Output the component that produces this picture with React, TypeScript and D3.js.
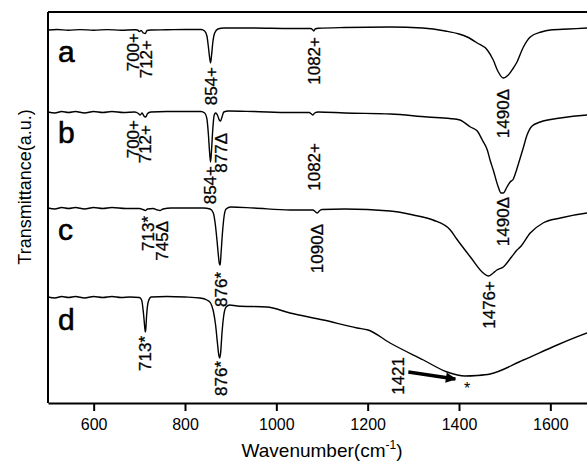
import * as d3 from "d3";
import React, { useEffect, useRef } from "react";

// spectra: [wavenumber (cm-1), transmittance (a.u., offset stacked)]
const specA: [number, number][] = [
  [500, 373], [520, 373.5], [545, 372.8], [570, 373.4], [600, 372.8], [630, 373.4],
  [660, 372.8], [690, 373.2], [696, 373], [700, 371.5], [704, 372.5], [709, 370],
  [713, 369.5], [717, 372.5], [725, 373], [760, 373.2], [800, 373.5], [835, 373.5],
  [843, 372], [848, 367], [851, 357], [854, 345], [856, 340], [858, 347], [861, 361],
  [865, 370], [872, 374], [885, 375], [950, 375], [1030, 374.5], [1075, 374.5],
  [1079, 373.5], [1082, 372], [1085, 374], [1092, 374.7], [1150, 375.5], [1250, 376],
  [1320, 375], [1370, 372], [1400, 369], [1418, 366], [1440, 360], [1462, 353],
  [1475, 343], [1485, 332], [1497, 325], [1508, 328], [1519, 335], [1527, 341],
  [1540, 355], [1556, 366], [1580, 371], [1600, 373], [1640, 374], [1681, 375], [1700, 375.5],
];

const specB: [number, number][] = [
  [500, 291], [515, 290], [530, 291.5], [545, 290.5], [560, 291.5], [580, 290], [600, 291.5],
  [620, 290.5], [640, 291.5], [665, 290.5], [690, 291], [698, 289.5], [702, 288], [706, 290],
  [710, 287], [714, 286], [718, 289.5], [725, 291], [760, 291.5], [800, 291.5], [835, 291.5],
  [843, 290], [848, 284], [851, 270], [854, 250], [856, 241], [858, 252], [861, 275],
  [864, 288], [867, 290], [871, 288], [875, 283], [878, 282], [881, 286], [885, 291],
  [895, 292], [950, 291.5], [1030, 290.5], [1072, 290.5], [1077, 289], [1080, 288],
  [1084, 290], [1092, 291], [1150, 290], [1250, 289], [1331, 286], [1380, 284.5],
  [1402, 283], [1425, 276], [1440, 272], [1451, 263], [1462, 253], [1468, 243], [1475, 233],
  [1486, 216], [1492, 210], [1497, 210], [1505, 216], [1512, 221], [1519, 224], [1526, 233],
  [1534, 245], [1540, 254], [1549, 268], [1560, 277], [1578, 281], [1622, 285], [1681, 288],
  [1700, 288.5],
];

const specC: [number, number][] = [
  [500, 195], [515, 194], [530, 195.5], [545, 194.5], [560, 195.5], [580, 194], [600, 195.5],
  [620, 194.5], [640, 195.5], [670, 194.5], [700, 194.5], [708, 193.5], [713, 192.5],
  [718, 194], [730, 194.5], [740, 193], [745, 192.5], [752, 194], [770, 195], [800, 195],
  [840, 195], [855, 194], [862, 190], [866, 180], [870, 163], [873, 148], [875, 140],
  [877, 138], [879, 150], [882, 170], [886, 188], [890, 194], [900, 196], [950, 195],
  [1030, 193], [1080, 193], [1086, 191], [1090, 190], [1094, 192], [1100, 193.5],
  [1150, 194], [1249, 192], [1300, 188], [1343, 183], [1381, 173], [1395, 164],
  [1425, 146], [1453, 130], [1464, 127], [1475, 130], [1483, 133], [1497, 136],
  [1515, 146], [1527, 153], [1534, 156], [1556, 170], [1584, 180], [1622, 185],
  [1681, 190], [1700, 191],
];

const specD: [number, number][] = [
  [500, 106], [515, 105], [530, 106.5], [545, 105.5], [560, 106.5], [580, 105], [600, 106.5],
  [620, 105.5], [640, 106.5], [660, 105.5], [680, 106], [700, 105.5], [705, 103], [709, 90],
  [712, 75], [713, 71], [714, 73], [716, 88], [720, 102], [726, 106], [760, 106.5],
  [800, 106], [833, 105], [848, 103], [856, 100], [862, 92], [867, 78], [871, 60],
  [874, 48], [876, 45], [878, 50], [881, 70], [885, 88], [890, 96], [898, 98], [914, 97],
  [979, 96], [1030, 90], [1103, 83], [1177, 75], [1201, 73], [1249, 60], [1322, 43],
  [1374, 31], [1413, 27], [1440, 27.5], [1468, 29], [1541, 43], [1615, 58], [1681, 70],
  [1700, 73],
];

const spectra = [specA, specB, specC, specD];
const sampleNames = ["a", "b", "c", "d"];
const sampleLabelPos: [number, number][] = [[522, 341], [522, 260], [522, 163], [522, 73]];

// peak labels: [wavenumber, label top (a.u.), text]
const peakLabels: [number, number, string][] = [
  [686, 370, "700+"], [715, 363, "712+"], [857, 336, "854+"], [1083, 366, "1082+"], [1497, 314, "1490\u0394"],
  [686, 283, "700+"], [712, 278, "712+"], [855, 237, "854+"], [879, 270, "877\u0394"], [1083, 260, "1082+"], [1497, 206, "1490\u0394"],
  [719, 187, "713*"], [750, 182, "745\u0394"], [878, 131, "876*"], [1089, 179, "1090\u0394"], [1466, 122, "1476+"],
  [712, 67, "713*"], [878, 42, "876*"], [1267, 46, "1421"],
];
const starMark: [number, number] = [1418, 20];
const arrowFrom: [number, number] = [1289, 31];
const arrowTo: [number, number] = [1392, 24];

const majorTicks = [600, 800, 1000, 1200, 1400, 1600];
const minorTicks = [500, 700, 900, 1100, 1300, 1500, 1700];

const FONT = "'Liberation Sans', Arial, Helvetica, sans-serif";

const App = () => {
  const svgRef = useRef<SVGSVGElement | null>(null);

  useEffect(() => {
    const svg = d3.select(svgRef.current);
    svg.selectAll("*").remove();

    const x = d3.scaleLinear().domain([500, 1700]).range([48, 596]);
    const y = d3.scaleLinear().domain([0, 391]).range([403, 12]);

    svg.append("defs")
      .append("marker")
      .attr("id", "arrowhead")
      .attr("viewBox", "0 0 10 10")
      .attr("refX", 9)
      .attr("refY", 5)
      .attr("markerWidth", 4)
      .attr("markerHeight", 3)
      .attr("orient", "auto")
      .attr("markerUnits", "strokeWidth")
      .append("path")
      .attr("d", "M0,0 L10,5 L0,10 Z")
      .attr("fill", "#000");

    const line = d3
      .line<[number, number]>()
      .x((d) => x(d[0]))
      .y((d) => y(d[1]))
      .curve(d3.curveMonotoneX);

    svg.selectAll(".spec")
      .data(spectra)
      .enter()
      .append("path")
      .attr("class", "spec")
      .attr("d", (d) => line(d))
      .attr("fill", "none")
      .attr("stroke", "#000")
      .attr("stroke-width", 1.4);

    // frame: top and left lines
    svg.append("line")
      .attr("x1", x(500)).attr("x2", x(1700))
      .attr("y1", y(391)).attr("y2", y(391))
      .attr("stroke", "#000").attr("stroke-width", 2);
    svg.append("line")
      .attr("x1", x(500)).attr("x2", x(500))
      .attr("y1", y(391)).attr("y2", y(0))
      .attr("stroke", "#000").attr("stroke-width", 2);

    // bottom axis
    const gx = svg.append("g").attr("transform", `translate(0,${y(0)})`);
    gx.call(d3.axisBottom(x).tickValues(minorTicks).tickSize(5).tickSizeOuter(0).tickFormat(() => ""));
    gx.call(d3.axisBottom(x).tickValues(majorTicks).tickSize(8).tickSizeOuter(0).tickFormat(d3.format("d")));
    gx.selectAll("path, line").attr("stroke", "#000").attr("stroke-width", 2);
    gx.selectAll(".tick text")
      .attr("font-family", FONT)
      .attr("font-size", 16)
      .attr("fill", "#000")
      .attr("dy", "1em");

    const xTitle = svg.append("text")
      .attr("x", 322)
      .attr("y", 457)
      .attr("text-anchor", "middle")
      .attr("font-family", FONT)
      .attr("font-size", 19)
      .attr("fill", "#000");
    xTitle.append("tspan").text("Wavenumber(cm");
    xTitle.append("tspan").attr("font-size", 12).attr("dy", -8).text("-1");
    xTitle.append("tspan").attr("dy", 8).text(")");

    svg.append("text")
      .attr("transform", `translate(25,187) rotate(-90)`)
      .attr("text-anchor", "middle")
      .attr("dy", "0.35em")
      .attr("font-family", FONT)
      .attr("font-size", 18)
      .attr("fill", "#000")
      .text("Transmittance(a.u.)");

    svg.selectAll(".sample")
      .data(sampleNames)
      .enter()
      .append("text")
      .attr("class", "sample")
      .attr("x", (_, i) => x(sampleLabelPos[i][0]))
      .attr("y", (_, i) => y(sampleLabelPos[i][1]))
      .attr("font-family", FONT)
      .attr("font-size", 30)
      .attr("fill", "#000")
      .attr("stroke", "#000")
      .attr("stroke-width", 0.6)
      .text((d) => d);

    svg.selectAll(".peak")
      .data(peakLabels)
      .enter()
      .append("text")
      .attr("class", "peak")
      .attr("transform", (d) => `translate(${x(d[0])},${y(d[1])}) rotate(-90)`)
      .attr("text-anchor", "end")
      .attr("dy", "0.35em")
      .attr("font-family", FONT)
      .attr("font-size", 17)
      .attr("fill", "#000")
      .attr("stroke", "#000")
      .attr("stroke-width", 0.3)
      .text((d) => d[2]);

    svg.append("text")
      .attr("x", x(starMark[0]))
      .attr("y", y(starMark[1]))
      .attr("text-anchor", "middle")
      .attr("dy", "0.7em")
      .attr("font-family", FONT)
      .attr("font-size", 16)
      .attr("fill", "#000")
      .text("*");

    svg.append("line")
      .attr("x1", x(arrowFrom[0])).attr("y1", y(arrowFrom[1]))
      .attr("x2", x(arrowTo[0])).attr("y2", y(arrowTo[1]))
      .attr("stroke", "#000")
      .attr("stroke-width", 3.5)
      .attr("marker-end", "url(#arrowhead)");
  }, []);

  return (
    <svg
      ref={svgRef}
      width="587"
      height="462"
      style={{ position: "absolute", left: 0, top: 0, background: "#fff" }}
    ></svg>
  );
};

export default App;
